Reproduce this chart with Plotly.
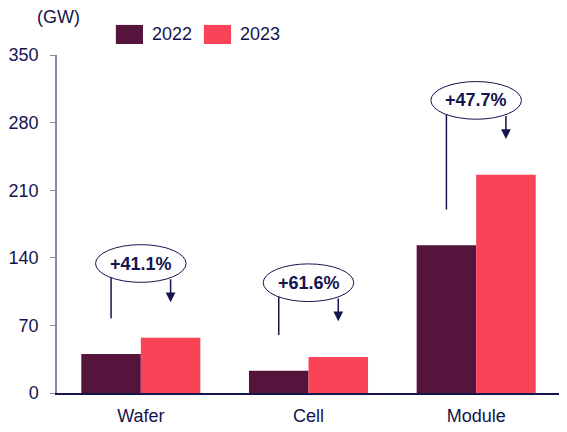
import math
import plotly.graph_objects as go

categories = ["Wafer", "Cell", "Module"]
years = ["2022", "2023"]
values_2022 = [40.5, 23.0, 153.0]
values_2023 = [57.1, 37.2, 226.0]
growth_labels = ["+41.1%", "+61.6%", "+47.7%"]
y_ticks = [0, 70, 140, 210, 280, 350]

navy = "#14144e"
colors = ["#55143c", "#f94457"]
font_family = "Liberation Sans, Arial, sans-serif"
bargap = 0.29

fig = go.Figure()
for name, vals, col in zip(years, [values_2022, values_2023], colors):
    fig.add_trace(go.Bar(x=categories, y=vals, name=name, marker_color=col,
                         marker_line_width=0, showlegend=False))

# growth callouts: ellipse with text, line from the 2022 bar, arrow to the 2023 bar
off = (1 - bargap) / 4
hw, hh = 0.27, 19.5  # ellipse half width (category units), half height (GW)
for i, (a, b, lab) in enumerate(zip(values_2022, values_2023, growth_labels)):
    cy = max(a, b) + 77
    fig.add_shape(type="circle", xref="x", yref="y",
                  x0=i - hw, x1=i + hw, y0=cy - hh, y1=cy + hh,
                  line=dict(color=navy, width=1), fillcolor="rgba(0,0,0,0)")
    edge = hh * math.sqrt(1 - (off / hw) ** 2)
    fig.add_shape(type="line", xref="x", yref="y",
                  x0=i - off, x1=i - off, y0=cy - edge, y1=a + 37,
                  line=dict(color=navy, width=1.5))
    fig.add_annotation(x=i + off, y=b + 37, ax=i + off, ay=cy - edge,
                       xref="x", yref="y", axref="x", ayref="y",
                       showarrow=True, arrowhead=2, arrowsize=1.3,
                       arrowwidth=1.5, arrowcolor=navy, text="")
    fig.add_annotation(x=i, y=cy, xref="x", yref="y", text="<b>%s</b>" % lab,
                       showarrow=False,
                       font=dict(size=18, color=navy, family=font_family))

# legend drawn as swatches + labels above the plot
legend_x = [0.117, 0.292]
for name, col, lx in zip(years, colors, legend_x):
    fig.add_shape(type="rect", xref="paper", yref="paper",
                  x0=lx, x1=lx + 0.054, y0=1.0325, y1=1.089,
                  fillcolor=col, line_width=0)
    fig.add_annotation(x=lx + 0.067, y=1.061, xref="paper", yref="paper",
                       text=name, showarrow=False, xanchor="left",
                       yanchor="middle",
                       font=dict(size=18, color=navy, family=font_family))

fig.add_annotation(x=0.002, y=1.112, xref="paper", yref="paper", text="(GW)",
                   showarrow=False, xanchor="center", yanchor="middle",
                   font=dict(size=18, color=navy, family=font_family))

# page body has an 8px margin, so the figure is sized to fit the window
fig.update_layout(
    width=559, height=424,
    margin=dict(l=49, r=7, t=47, b=39, autoexpand=False),
    paper_bgcolor="white", plot_bgcolor="white",
    font=dict(family=font_family, size=18, color=navy),
    bargap=bargap, bargroupgap=0,
    barmode="group",
    showlegend=False,
)
fig.update_xaxes(type="category", showline=True, linecolor=navy, linewidth=1.5,
                 ticks="", showgrid=False, tickfont=dict(size=18, color=navy),
                 ticklabelstandoff=6, range=[-0.5, 2.5])
fig.update_yaxes(range=[0, 350], tickvals=y_ticks, showline=True,
                 linecolor="#8a86a6", linewidth=1.5, ticks="outside", ticklen=5,
                 tickcolor="#8a86a6", showgrid=False, zeroline=False,
                 ticklabelstandoff=8, tickfont=dict(size=18, color=navy))

fig.write_html("out.html")
